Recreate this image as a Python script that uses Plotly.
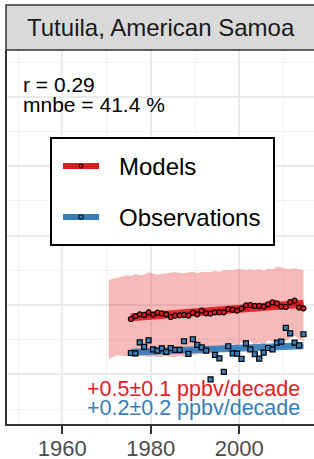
import numpy as np
import plotly.graph_objects as go

# ---------------- data ----------------
site = "Tutuila, American Samoa"
stats_r = "r = 0.29"
stats_mnbe = "mnbe = 41.4 %"
trend_model_label = "+0.5±0.1 ppbv/decade"
trend_obs_label = "+0.2±0.2 ppbv/decade"

years = list(range(1975, 2015))
models = [17.98, 18.40, 18.65, 18.56, 18.94, 18.61, 18.89, 18.80, 18.66, 18.27,
          18.46, 18.51, 18.56, 18.46, 18.89, 18.66, 19.18, 18.80, 18.75, 18.94,
          18.94, 18.94, 19.42, 19.32, 19.18, 19.47, 19.95, 20.00, 19.86, 19.86,
          19.76, 20.10, 20.39, 20.24, 19.76, 19.71, 20.43, 20.62, 19.61, 19.52]
observations = [13.08, 13.04, 14.62, 13.95, 14.91, 13.61, 13.42, 13.76, 13.23, 13.80,
                13.52, 13.52, 14.77, 12.94, 15.06, 14.24, 13.90, 13.42, 9.29, 12.80,
                12.32, 10.35, 14.05, 13.04, 12.98, 12.22, 14.48, 13.61, 12.90, 12.26,
                13.13, 13.80, 13.61, 14.57, 14.71, 16.69, 15.92, 14.57, 14.19, 15.78]

band_years = list(range(1970, 2015))
band_top = [23.60, 23.75, 23.94, 24.08, 24.28, 24.22, 24.47, 24.28, 24.37, 24.71,
            24.57, 24.37, 24.47, 24.57, 24.71, 24.76, 24.61, 24.57, 24.71, 24.80,
            24.57, 24.76, 24.76, 24.71, 24.90, 24.80, 25.00, 25.09, 24.95, 25.19,
            25.14, 25.04, 25.14, 25.04, 25.19, 24.95, 25.23, 25.14, 25.52, 25.43,
            25.23, 25.19, 25.28, 25.19, 25.04]
band_bottom = [12.29, 12.51, 12.80, 12.65, 12.65, 12.65, 12.51, 12.65, 12.65, 12.51,
               12.65, 12.51, 12.51, 12.65, 12.51, 12.51, 12.65, 12.51, 12.65, 12.80,
               12.94, 12.94, 13.08, 13.23, 13.37, 13.52, 13.66, 14.09, 14.38, 14.09,
               14.67, 14.38, 14.81, 14.24, 14.52, 14.09, 14.96, 14.67, 15.10, 14.52,
               14.81, 15.24, 15.53, 15.10, 14.81]

x_ticks = [1960, 1980, 2000]
x_minor = [1950, 1970, 1990, 2010]

# ---------------- styling ----------------
RED = "#E41A1C"
BLUE = "#377EB8"
FONT = "Liberation Sans, Arial, Helvetica, sans-serif"
W, H = 314, 459
L, R, T, B = 7, 0, 50, 35


def px_x(px):
    return (px - L) / (W - L - R)


def px_y(py):
    return 1 - (py - T) / (H - T - B)


mid = 0.5  # annual means plotted at mid-year
xm = np.array(years) + mid
xb = np.array(band_years) + mid

fig = go.Figure()

# model spread band
fig.add_trace(go.Scatter(x=xb, y=band_bottom, mode="lines", line=dict(width=0),
                         hoverinfo="skip", showlegend=False))
fig.add_trace(go.Scatter(x=xb, y=band_top, mode="lines", line=dict(width=0),
                         fill="tonexty", fillcolor="rgba(228,26,28,0.3)",
                         hoverinfo="skip", showlegend=False))

# trend lines (linear fits of the series)
for vals, col, w_out, col_in in [(models, RED, 8, "#C3121A"), (observations, BLUE, 7, BLUE)]:
    a, b = np.polyfit(xm, vals, 1)
    fit = a * xm + b
    fig.add_trace(go.Scatter(x=xm, y=fit, mode="lines", line=dict(color=col, width=w_out),
                             opacity=0.9, hoverinfo="skip", showlegend=False))
    fig.add_trace(go.Scatter(x=xm, y=fit, mode="lines", line=dict(color=col_in, width=3),
                             opacity=0.6, hoverinfo="skip", showlegend=False))

# points
fig.add_trace(go.Scatter(x=xm, y=models, mode="markers", name="Models",
                         marker=dict(symbol="circle", size=5, color=RED,
                                     line=dict(color="black", width=1.2)),
                         showlegend=False))
fig.add_trace(go.Scatter(x=xm, y=observations, mode="markers", name="Observations",
                         marker=dict(symbol="square", size=5, color=BLUE,
                                     line=dict(color="black", width=1.2)),
                         showlegend=False))

shapes = []
annotations = []

# facet strip
shapes.append(dict(type="rect", xref="paper", yref="paper",
                   x0=px_x(6), x1=px_x(330), y0=px_y(50), y1=px_y(5),
                   fillcolor="#D9D9D9", line=dict(color="#333333", width=1.5), layer="above"))
annotations.append(dict(xref="paper", yref="paper", x=px_x(161), y=px_y(28),
                        text=site, showarrow=False, xanchor="center", yanchor="middle",
                        font=dict(family=FONT, size=24, color="#1A1A1A")))

# stats text
annotations.append(dict(xref="paper", yref="paper", x=px_x(21), y=px_y(84),
                        text=stats_r, showarrow=False, xanchor="left", yanchor="middle",
                        font=dict(family=FONT, size=21, color="black")))
annotations.append(dict(xref="paper", yref="paper", x=px_x(21), y=px_y(104),
                        text=stats_mnbe, showarrow=False, xanchor="left", yanchor="middle",
                        font=dict(family=FONT, size=21, color="black")))

# legend box (drawn)
shapes.append(dict(type="rect", xref="paper", yref="paper",
                   x0=px_x(51), x1=px_x(274), y0=px_y(245), y1=px_y(138),
                   fillcolor="white", line=dict(color="black", width=2), layer="above"))
for py, col, sym, label in [(166, RED, "circle", "Models"), (217, BLUE, "rect", "Observations")]:
    shapes.append(dict(type="line", xref="paper", yref="paper",
                       x0=px_x(63), x1=px_x(99), y0=px_y(py), y1=px_y(py),
                       line=dict(color=col, width=6), layer="above"))
    shapes.append(dict(type=sym, xref="paper", yref="paper",
                       x0=px_x(79), x1=px_x(83), y0=px_y(py + 2), y1=px_y(py - 2),
                       fillcolor=col, line=dict(color="black", width=1), layer="above"))
    annotations.append(dict(xref="paper", yref="paper", x=px_x(117), y=px_y(py),
                            text=label, showarrow=False, xanchor="left", yanchor="middle",
                            font=dict(family=FONT, size=24, color="black")))

# trend labels
annotations.append(dict(xref="paper", yref="paper", x=px_x(302), y=px_y(389),
                        text=trend_model_label, showarrow=False, xanchor="right", yanchor="middle",
                        font=dict(family=FONT, size=21.5, color=RED)))
annotations.append(dict(xref="paper", yref="paper", x=px_x(302), y=px_y(408),
                        text=trend_obs_label, showarrow=False, xanchor="right", yanchor="middle",
                        font=dict(family=FONT, size=21.5, color=BLUE)))

fig.update_layout(
    width=W, height=H,
    margin=dict(l=L, r=R, t=T, b=B, pad=0, autoexpand=False),
    paper_bgcolor="white", plot_bgcolor="white",
    showlegend=False,
    shapes=shapes, annotations=annotations,
    font=dict(family=FONT),
    xaxis=dict(range=[1947.5, 2016.88], tickvals=x_ticks, ticktext=[str(v) for v in x_ticks],
               showgrid=True, gridcolor="#EBEBEB", gridwidth=2,
               minor=dict(tickvals=x_minor, showgrid=True, gridcolor="#F2F2F2", gridwidth=1, ticks=""),
               showline=True, linecolor="#333333", linewidth=1.6,
               ticks="outside", ticklen=8, tickwidth=2, tickcolor="#333333",
               ticklabelstandoff=-4,
               tickfont=dict(family=FONT, size=22, color="#4D4D4D"),
               zeroline=False, fixedrange=True, automargin=False),
    yaxis=dict(range=[2.85, 56.74], dtick=10, tick0=0,
               showgrid=True, gridcolor="#EBEBEB", gridwidth=2,
               minor=dict(dtick=5, tick0=5, showgrid=True, gridcolor="#F2F2F2", gridwidth=1, ticks=""),
               showline=True, linecolor="#333333", linewidth=1.6,
               showticklabels=False, ticks="", zeroline=False, fixedrange=True, automargin=False),
)

fig.write_html("out.html", config={"displayModeBar": False},
               post_script="document.body.style.margin='0px';")
